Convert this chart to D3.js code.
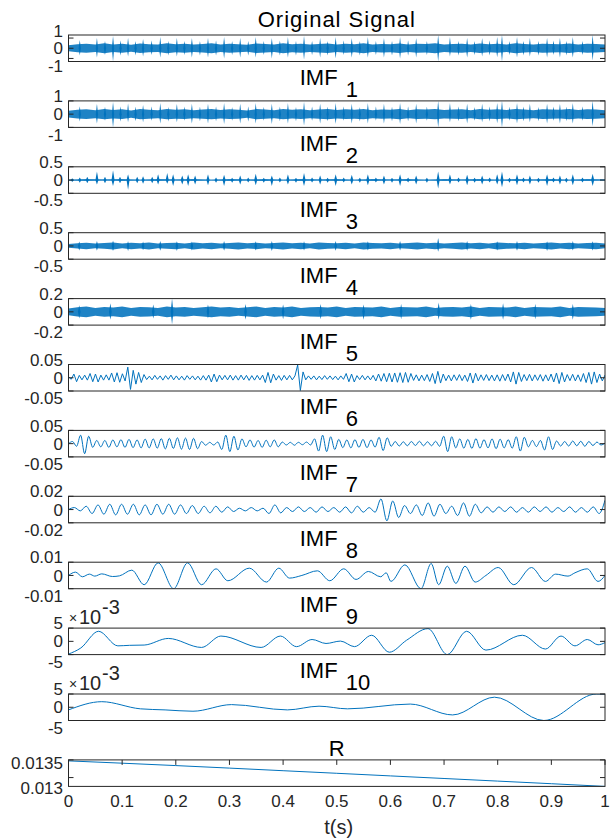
<!DOCTYPE html>
<html lang="en">
<head>
<meta charset="UTF-8">
<title>EMD of a vibration signal</title>
<style>
  body { margin: 0; background: #fff; font-family: Arial, "Liberation Sans", sans-serif; }
  .box { fill: none; stroke: #262626; stroke-width: 1; }
  .tk { stroke: #262626; stroke-width: 1; }
  .lbl { font-size: 17px; fill: #262626; }
  .ttl { font-size: 22px; fill: #000; }
  .sig { fill: none; stroke: #0072BD; stroke-width: 1; }
  .band { fill: #0072BD; fill-opacity: 0.88; }
  .spk { fill: #0072BD; }
</style>
</head>
<body>
<svg width="610" height="840"></svg>
<script src="https://d3js.org/d3.v7.min.js"></script>
<script>
// ---- data ----
// dense panels: band half-width sampled evenly over t, plus impulses [t, up, down]
const origBase = [0.3,0.4,0.45,0.36,0.48,0.38,0.45,0.34,0.46,0.4,0.36,0.48,0.4,0.45,0.36,0.42,0.48,0.38,0.45,0.4,0.34,0.46,0.41,0.36,0.48,0.39,0.45,0.36,0.42,0.46,
  0.38,0.45,0.4,0.48,0.36,0.42,0.39,0.46,0.36,0.45,0.41,0.48,0.38,0.42,0.45,0.36,0.46,0.4,0.45,0.38,0.48,0.41,0.36,0.45,0.42,0.39,0.46,0.38,0.45,0.41,0.36];
const origSpikes = [
  [0.021,0.8,0.7],[0.053,1.0,0.9],[0.083,1.2,1.3],[0.111,1.0,0.8],[0.139,0.9,0.8],[0.171,1.1,0.9],[0.202,1.0,0.8],[0.230,1.0,0.9],
  [0.260,1.0,0.9],[0.290,1.1,1.0],[0.320,1.0,0.9],[0.349,1.1,0.9],[0.379,1.0,1.0],[0.409,1.1,0.9],[0.439,1.2,1.1],[0.469,1.0,0.9],
  [0.498,1.1,1.0],[0.528,1.0,0.9],[0.558,1.1,0.9],[0.588,1.0,0.9],[0.618,1.1,1.0],[0.648,1.0,0.9],[0.689,1.3,1.3],[0.711,1.1,0.8],
  [0.743,1.0,0.9],[0.771,1.0,0.8],[0.799,1.1,0.9],[0.808,1.3,1.3],[0.836,1.1,0.9],[0.860,1.0,0.8],[0.892,1.0,0.9],[0.916,1.0,0.9],
  [0.940,1.1,0.9],[0.977,1.3,1.2],
  [0.068,0.7,0.65],[0.097,0.75,0.7],[0.125,0.7,0.7],[0.155,0.75,0.65],[0.186,0.7,0.7],[0.216,0.72,0.65],[0.245,0.7,0.7],[0.275,0.75,0.7],
  [0.305,0.7,0.65],[0.335,0.72,0.7],[0.364,0.7,0.65],[0.394,0.75,0.7],[0.424,0.7,0.7],[0.454,0.72,0.65],[0.483,0.7,0.7],[0.513,0.75,0.65],
  [0.543,0.7,0.7],[0.573,0.72,0.65],[0.603,0.7,0.7],[0.633,0.75,0.7],[0.668,0.7,0.65],[0.727,0.72,0.7],[0.757,0.7,0.65],[0.785,0.75,0.7],
  [0.822,0.7,0.65],[0.848,0.72,0.7],[0.876,0.7,0.7],[0.904,0.75,0.65],[0.928,0.7,0.7],[0.958,0.72,0.65]
];
const imf1Base = [0.25,0.33,0.37,0.3,0.39,0.32,0.37,0.28,0.38,0.34,0.3,0.39,0.34,0.37,0.3,0.35,0.39,0.32,0.37,0.34,0.28,0.38,0.35,0.3,0.39,0.33,0.37,0.3,0.35,0.38,
  0.32,0.37,0.34,0.39,0.3,0.35,0.33,0.38,0.3,0.37,0.35,0.39,0.32,0.35,0.37,0.3,0.38,0.34,0.37,0.32,0.39,0.35,0.3,0.37,0.35,0.33,0.38,0.32,0.37,0.35,0.3];
const imf1Spikes = [
  [0.021,0.6,0.55],[0.053,0.78,0.7],[0.083,0.92,1.0],[0.111,0.8,0.62],[0.139,0.7,0.62],[0.171,0.85,0.7],[0.202,0.78,0.62],[0.230,0.78,0.7],
  [0.260,0.78,0.7],[0.290,0.85,0.75],[0.320,0.78,0.7],[0.349,0.85,0.7],[0.379,0.78,0.75],[0.409,0.85,0.7],[0.439,0.92,0.85],[0.469,0.78,0.7],
  [0.498,0.85,0.75],[0.528,0.78,0.7],[0.558,0.85,0.7],[0.588,0.78,0.7],[0.618,0.85,0.75],[0.648,0.78,0.7],[0.689,1.0,1.0],[0.711,0.85,0.62],
  [0.743,0.78,0.7],[0.771,0.78,0.62],[0.799,0.85,0.7],[0.808,1.0,1.0],[0.836,0.85,0.7],[0.860,0.78,0.62],[0.892,0.78,0.7],[0.916,0.78,0.7],
  [0.940,0.85,0.7],[0.977,1.0,0.92],
  [0.068,0.55,0.5],[0.097,0.58,0.55],[0.125,0.55,0.54],[0.155,0.58,0.5],[0.186,0.54,0.55],[0.216,0.58,0.5],[0.245,0.55,0.54],[0.275,0.58,0.53],
  [0.305,0.54,0.5],[0.335,0.58,0.55],[0.364,0.55,0.5],[0.394,0.58,0.54],[0.424,0.54,0.53],[0.454,0.58,0.5],[0.483,0.55,0.54],[0.513,0.58,0.5],
  [0.543,0.54,0.55],[0.573,0.58,0.5],[0.603,0.55,0.53],[0.633,0.58,0.54],[0.668,0.55,0.5],[0.727,0.58,0.54],[0.757,0.54,0.5],[0.785,0.58,0.55],
  [0.822,0.55,0.5],[0.848,0.58,0.54],[0.876,0.54,0.53],[0.904,0.58,0.5],[0.928,0.55,0.54],[0.958,0.58,0.5]
];
const imf2Base = [0.025,0.035,0.03,0.04,0.025,0.035,0.03,0.04,0.025,0.035,0.03,0.04,0.025,0.035,0.03,0.04,0.025,0.035,0.03,0.04,0.025,0.035,0.03,0.04,0.025,0.035,0.03,0.04,0.025,0.035,0.03];
const imf2Spikes = [
  [0.007,0.07,0.07],[0.021,0.1,0.1],[0.035,0.12,0.12],[0.053,0.32,0.17],[0.068,0.12,0.12],[0.083,0.37,0.22],[0.096,0.12,0.12],[0.111,0.22,0.37],
  [0.128,0.12,0.12],[0.139,0.14,0.14],[0.156,0.12,0.12],[0.167,0.22,0.17],[0.184,0.27,0.14],[0.195,0.22,0.22],[0.212,0.17,0.17],[0.223,0.22,0.22],
  [0.236,0.17,0.17],[0.26,0.22,0.2],[0.29,0.2,0.22],[0.32,0.17,0.17],[0.349,0.24,0.2],[0.379,0.17,0.22],[0.409,0.22,0.17],[0.439,0.27,0.22],
  [0.469,0.17,0.17],[0.498,0.22,0.22],[0.528,0.2,0.17],[0.558,0.22,0.2],[0.588,0.17,0.17],[0.618,0.22,0.22],[0.648,0.17,0.17],[0.689,0.32,0.32],
  [0.711,0.22,0.17],[0.743,0.2,0.2],[0.771,0.17,0.17],[0.799,0.22,0.17],[0.808,0.32,0.27],[0.836,0.22,0.2],[0.860,0.17,0.17],[0.892,0.22,0.22],
  [0.916,0.17,0.17],[0.940,0.22,0.2],[0.977,0.24,0.22],
  [0.275,0.1,0.1],[0.305,0.09,0.1],[0.335,0.1,0.09],[0.364,0.09,0.1],[0.394,0.1,0.09],[0.424,0.09,0.1],[0.454,0.1,0.09],[0.483,0.09,0.1],
  [0.513,0.1,0.09],[0.543,0.09,0.1],[0.573,0.1,0.09],[0.603,0.09,0.1],[0.633,0.1,0.09],[0.668,0.09,0.1],[0.727,0.1,0.09],[0.757,0.09,0.1],
  [0.785,0.1,0.09],[0.822,0.09,0.1],[0.848,0.1,0.09],[0.876,0.09,0.1],[0.904,0.1,0.09],[0.928,0.09,0.1],[0.958,0.1,0.09]
];
const imf3Base = [0.07,0.1,0.12,0.09,0.11,0.13,0.09,0.12,0.1,0.13,0.09,0.11,0.12,0.09,0.13,0.1,0.12,0.09,0.11,0.13,0.1,0.12,0.09,0.11,0.13,0.1,0.12,0.09,0.13,0.11,
  0.1,0.12,0.09,0.13,0.11,0.1,0.12,0.09,0.11,0.13,0.1,0.12,0.09,0.11,0.13,0.1,0.12,0.09,0.13,0.11,0.1,0.12,0.09,0.11,0.13,0.1,0.12,0.09,0.11,0.12,0.09];
const imf3Spikes = [
  [0.02,0.17,0.17],[0.053,0.19,0.18],[0.083,0.21,0.19],[0.111,0.18,0.19],[0.139,0.17,0.16],[0.171,0.19,0.18],[0.202,0.18,0.19],[0.230,0.17,0.17],
  [0.290,0.19,0.18],[0.349,0.18,0.17],[0.379,0.19,0.19],[0.439,0.18,0.17],[0.498,0.19,0.18],[0.558,0.18,0.17],[0.618,0.19,0.17],[0.689,0.3,0.22],
  [0.743,0.19,0.18],[0.799,0.18,0.17],[0.836,0.19,0.18],[0.892,0.18,0.19],[0.940,0.19,0.17],[0.977,0.18,0.17]
];
const imf4Base = [0.05,0.07,0.08,0.06,0.075,0.065,0.08,0.06,0.075,0.07,0.06,0.08,0.065,0.075,0.06,0.07,0.08,0.065,0.075,0.06,0.07,0.08,0.06,0.075,0.065,0.08,0.06,0.07,0.075,0.065,
  0.08,0.06,0.075,0.07,0.065,0.08,0.06,0.075,0.07,0.065,0.08,0.06,0.07,0.075,0.065,0.08,0.06,0.075,0.07,0.065,0.08,0.06,0.075,0.07,0.065,0.08,0.06,0.075,0.07,0.065,0.06];
const imf4Spikes = [
  [0.02,0.1,0.1],[0.078,0.13,0.12],[0.158,0.11,0.1],[0.193,0.2,0.19],[0.26,0.11,0.1],[0.33,0.12,0.12],[0.40,0.11,0.11],[0.47,0.12,0.11],
  [0.55,0.11,0.12],[0.62,0.12,0.11],[0.69,0.14,0.12],[0.75,0.12,0.12],[0.81,0.13,0.12],[0.87,0.12,0.11],[0.94,0.12,0.12]
];
// IMF5, IMF6, IMF7: successive extrema, evenly spaced in t (units of 1e-3)
const imf5 = [4,-6,14,-15,9,-8,10,-9,16,-15,14,-16,10,-9,11,-9,18,-16,19,-17,15,-12,40,-44,28,-24,20,-18,12,
  -7,6,-8,9,-6,7,-9,8,-6,10,-8,7,-8,6,-9,8,-6,7,-8,6,-9,8,-9,10,-16,14,-15,10,-8,
  9,-8,10,-9,8,-9,10,-8,9,-10,8,-9,9,-8,10,-18,20,-19,14,-9,8,-10,9,-8,9,-8,7,48,-48,22,
  -8,7,-6,7,-8,6,-7,8,-6,7,-7,6,-8,7,-6,16,-15,14,-16,8,-7,9,-8,7,-8,9,
  -12,14,-13,16,-15,17,-16,18,-17,19,-18,20,-17,16,
  -10,11,-12,10,-11,12,-14,16,-22,24,-20,14,-11,10,-12,11,-10,12,-11,10,-14,18,-20,17,-12,11,-10,12,-11,10,
  -12,11,-13,12,-11,14,-16,22,-24,20,-14,12,-11,13,-12,11,-10,12,-13,11,-12,14,-16,18,-22,20,-16,12,-11,13,
  -12,11,-14,16,-18,20,-24,22,-18,14,-12,10];
const imf6 = [0,8,-10,32,-38,28,-14,12,-12,
  12,-14,14,-12,15,-14,16,-15,14,-16,17,-16,18,-17,19,-20,20,-18,22,-21,21,-22,20,-19,
  8,-6,5,-5,6,-22,32,-30,28,-24,18,-12,14,-13,12,-14,13,-12,14,-12,6,-5,5,-6,5,-4,6,-5,
  18,-28,32,-30,26,-22,16,-15,14,-16,15,-14,16,-15,14,-13,24,-26,22,
  -10,8,-9,7,-8,8,-7,9,-8,7,-8,9,-10,28,-30,26,
  -16,18,-17,16,-18,19,-17,15,-16,18,-19,17,-16,15,-17,26,-28,24,-12,12,-11,12,-24,26,-22,
  10,-9,8,-9,10,-8,9,-10,8,-7,6,-5,2];
const imf7 = [0,3,-2,5,-6,7,-7,8,-8,8,-7,8,-8,7,-8,8,-7,8,-7,7,-6,6,-6,5,-5,5,-4,4,
  -3,2,-2,3,-2,2,-6,7,-5,3,-3,4,-3,3,-4,4,-3,3,-4,4,-5,5,-4,3,
  -4,16,-17,13,-12,6,-6,7,-9,10,-10,8,-6,5,-9,10,-10,8,
  -5,4,-4,4,-3,4,-4,3,-4,4,-3,4,-4,3,-3,4,-4,3,-4,4,-6,14];
// IMF8..IMF10: extrema as [t, value*1e3]
const imf8 = [[0,0],[0.013,2.5],[0.026,-1],[0.039,1],[0.049,-0.5],[0.062,1.2],[0.082,-0.8],[0.095,-0.3],[0.118,4],[0.141,-7],
  [0.167,9.5],[0.196,-10],[0.222,9.5],[0.248,-7],[0.275,5],[0.297,-4],[0.337,5.5],[0.369,-5],[0.392,5.5],[0.412,-2],[0.435,0],
  [0.464,3.5],[0.487,-4],[0.513,5],[0.536,-3],[0.559,3],[0.582,-1],[0.592,2],[0.601,-4.5],[0.627,8],[0.657,-10],[0.676,9],
  [0.690,-7],[0.706,7],[0.722,-6],[0.739,7],[0.758,-5],[0.778,0],[0.801,6],[0.830,-7],[0.863,6],[0.889,-4.5],[0.908,1],
  [0.931,-0.5],[0.944,2],[0.967,5],[0.987,-4.5],[1,0]];
const imf9 = [[0,-4.8],[0.023,-2.5],[0.056,3.8],[0.092,-1.7],[0.114,-1.5],[0.141,-1.4],[0.186,1.1],[0.248,-2.3],[0.284,2],
  [0.359,-2.3],[0.395,2],[0.425,-2],[0.454,0.7],[0.48,-0.8],[0.507,0.1],[0.533,-2],[0.565,2.3],[0.598,-4.1],[0.63,0.4],
  [0.67,4.8],[0.706,-5],[0.742,3.8],[0.778,-3.3],[0.846,2.3],[0.889,-2.9],[0.918,2],[0.944,-1.7],[0.967,0.7],[0.987,-1.3],[1,-0.5]];
const imf10 = [[0,-1],[0.062,2.1],[0.134,-0.6],[0.18,-1],[0.232,-1.5],[0.304,1],[0.408,-1],[0.467,0.4],[0.52,-0.6],
  [0.637,1.2],[0.716,-2.9],[0.794,3.8],[0.886,-5],[0.984,5],[1,5]];
// residue R at t = 0, 0.1, ..., 1
const resT = [0,0.1,0.2,0.3,0.4,0.5,0.6,0.7,0.8,0.9,1];
const resV = [0.013472,0.013407,0.013339,0.013268,0.013194,0.013121,0.013047,0.012974,0.0129,0.012826,0.01275];
const xTicks = [0,0.1,0.2,0.3,0.4,0.5,0.6,0.7,0.8,0.9,1];

// ---- layout ----
const svg = d3.select("svg");
const x = d3.scaleLinear().domain([0, 1]).range([68.5, 605]);
const H = 26.5;
const panelTop = i => 35 + i * 65.9;
const cx = (x(0) + x(1)) / 2;

function panel(i, lo, hi) {
  return d3.scaleLinear().domain([lo, hi]).range([panelTop(i) + H, panelTop(i)]);
}

function box(i) {
  svg.append("rect").attr("class", "box")
    .attr("x", x(0)).attr("y", panelTop(i)).attr("width", x(1) - x(0)).attr("height", H);
}

function yTicks(y, ticks, labels, offs) {
  ticks.forEach((v, k) => {
    const yy = y(v);
    svg.append("line").attr("class", "tk").attr("x1", x(0)).attr("x2", x(0) + 5).attr("y1", yy).attr("y2", yy);
    svg.append("line").attr("class", "tk").attr("x1", x(1)).attr("x2", x(1) - 5).attr("y1", yy).attr("y2", yy);
    svg.append("text").attr("class", "lbl").attr("text-anchor", "end")
      .attr("x", x(0) - 5.5).attr("y", yy + offs[k]).attr("dy", "0.36em").text(labels[k]);
  });
}

function title(i, main, sub) {
  if (sub === undefined) {
    svg.append("text").attr("class", "ttl").attr("text-anchor", "middle")
      .attr("font-size", 23).attr("letter-spacing", main === "R" ? 0 : 1)
      .attr("x", cx).attr("y", panelTop(i) - (main === "R" ? 4 : 8)).text(main);
  } else {
    svg.append("text").attr("class", "ttl").attr("x", cx - 37).attr("y", panelTop(i) - 16).text(main);
    svg.append("text").attr("class", "ttl").attr("font-size", 20).attr("x", cx + 9).attr("y", panelTop(i) - 4).text(sub);
  }
}

function exponent(i) {
  const t = panelTop(i);
  svg.append("text").attr("font-size", 14).attr("fill", "#262626").attr("x", 69).attr("y", t - 5).text("×");
  svg.append("text").attr("font-size", 20).attr("fill", "#262626").attr("x", 79).attr("y", t - 4).text("10");
  svg.append("text").attr("font-size", 20).attr("fill", "#262626").attr("x", 102).attr("y", t - 14).text("-3");
}

function clip(i) {
  const id = "c" + i;
  svg.append("clipPath").attr("id", id).append("rect")
    .attr("x", x(0)).attr("y", panelTop(i)).attr("width", x(1) - x(0)).attr("height", H);
  return svg.append("g").attr("clip-path", `url(#${id})`);
}

function band(i, y, base, spikes, w) {
  const g = clip(i);
  const n = base.length - 1;
  g.append("path").attr("class", "band")
    .attr("d", d3.area().x((d, k) => x(k / n)).y0(d => y(-d)).y1(d => y(d))(base));
  spikes.forEach(([t, up, dn]) => {
    const px = x(t), y0 = y(0);
    g.append("path").attr("class", "spk")
      .attr("d", `M${px - w},${y0}L${px},${y(up)}L${px + w},${y0}L${px},${y(-dn)}Z`);
  });
}

function even(i, y, vals, curve) {
  const g = clip(i);
  const n = vals.length - 1;
  g.append("path").attr("class", "sig")
    .attr("d", d3.line().x((d, k) => x(k / n)).y(d => y(d / 1000)).curve(curve)(vals));
}

function pairs(i, y, pts) {
  const g = clip(i);
  g.append("path").attr("class", "sig")
    .attr("d", d3.line().x(d => x(d[0])).y(d => y(d[1] / 1000)).curve(d3.curveMonotoneX)(pts));
}

const offs = [-5, 0, 7];

// Original signal
let y = panel(0, -1.3, 1.3);
band(0, y, origBase, origSpikes, 1.1);
box(0); yTicks(y, [1, 0, -1], ["1", "0", "-1"], [-7, 0, 7]); title(0, "Original Signal");

// IMF1
y = panel(1, -1, 1);
band(1, y, imf1Base, imf1Spikes, 1.1);
box(1); yTicks(y, [1, 0, -1], ["1", "0", "-1"], offs); title(1, "IMF", "1");

// IMF2
y = panel(2, -0.5, 0.5);
band(2, y, imf2Base, imf2Spikes, 1.5);
box(2); yTicks(y, [0.5, 0, -0.5], ["0.5", "0", "-0.5"], offs); title(2, "IMF", "2");

// IMF3
y = panel(3, -0.5, 0.5);
band(3, y, imf3Base, imf3Spikes, 1.3);
box(3); yTicks(y, [0.5, 0, -0.5], ["0.5", "0", "-0.5"], offs); title(3, "IMF", "3");

// IMF4
y = panel(4, -0.2, 0.2);
band(4, y, imf4Base, imf4Spikes, 1.3);
box(4); yTicks(y, [0.2, 0, -0.2], ["0.2", "0", "-0.2"], offs); title(4, "IMF", "4");

// IMF5
y = panel(5, -0.05, 0.05);
even(5, y, imf5, d3.curveLinear);
box(5); yTicks(y, [0.05, 0, -0.05], ["0.05", "0", "-0.05"], offs); title(5, "IMF", "5");

// IMF6
y = panel(6, -0.05, 0.05);
even(6, y, imf6, d3.curveMonotoneX);
box(6); yTicks(y, [0.05, 0, -0.05], ["0.05", "0", "-0.05"], offs); title(6, "IMF", "6");

// IMF7
y = panel(7, -0.02, 0.02);
even(7, y, imf7, d3.curveMonotoneX);
box(7); yTicks(y, [0.02, 0, -0.02], ["0.02", "0", "-0.02"], offs); title(7, "IMF", "7");

// IMF8
y = panel(8, -0.01, 0.01);
pairs(8, y, imf8);
box(8); yTicks(y, [0.01, 0, -0.01], ["0.01", "0", "-0.01"], offs); title(8, "IMF", "8");

// IMF9
y = panel(9, -0.005, 0.005);
pairs(9, y, imf9);
box(9); yTicks(y, [0.005, 0, -0.005], ["5", "0", "-5"], offs); title(9, "IMF", "9"); exponent(9);

// IMF10
y = panel(10, -0.005, 0.005);
pairs(10, y, imf10);
box(10); yTicks(y, [0.005, 0, -0.005], ["5", "0", "-5"], offs); title(10, "IMF", "10"); exponent(10);

// Residue
y = panel(11, 0.01275, 0.0135);
{
  const g = clip(11);
  g.append("path").attr("class", "sig")
    .attr("d", d3.line().x((d, k) => x(resT[k])).y(d => y(d))(resV));
}
box(11); yTicks(y, [0.0135, 0.013], ["0.0135", "0.013"], [3, 10]); title(11, "R");
xTicks.forEach(t => {
  svg.append("line").attr("class", "tk").attr("x1", x(t)).attr("x2", x(t)).attr("y1", panelTop(11)).attr("y2", panelTop(11) + 5);
  svg.append("text").attr("class", "lbl").attr("text-anchor", "middle")
    .attr("x", x(t)).attr("y", panelTop(11) + H + 21).text(String(t));
});
svg.append("text").attr("font-size", 20).attr("fill", "#262626").attr("text-anchor", "middle")
  .attr("x", cx + 2).attr("y", 834).text("t(s)");
</script>
</body>
</html>
